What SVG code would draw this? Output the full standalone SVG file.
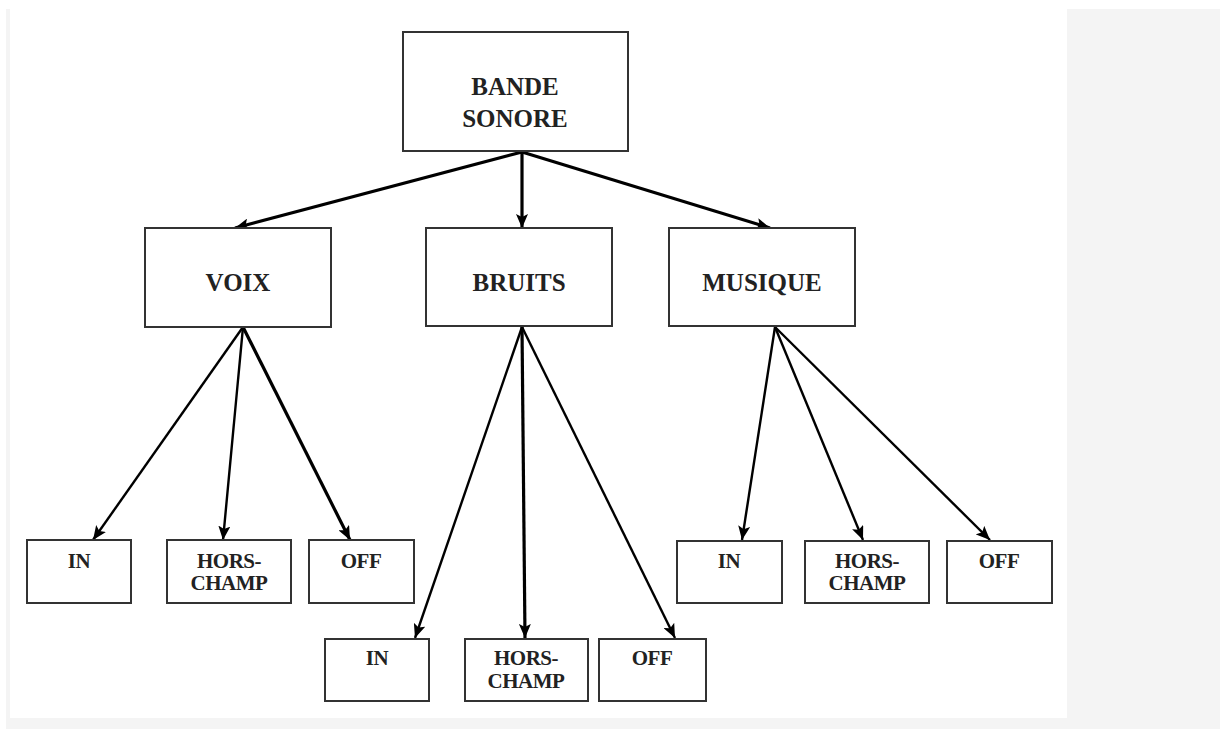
<svg xmlns="http://www.w3.org/2000/svg" width="1220" height="729" viewBox="0 0 1220 729">
<style>
.box{fill:#fff;stroke:#333;stroke-width:2}
.big{font-family:"Liberation Serif",serif;font-weight:bold;font-size:25px;fill:#222;text-anchor:middle}
.sm{font-family:"Liberation Serif",serif;font-weight:bold;font-size:21px;fill:#222;text-anchor:middle;letter-spacing:-0.5px}
.c{stroke:#000;fill:none;stroke-width:2.4}
.c3{stroke:#000;fill:none;stroke-width:3.2}
</style>
<defs>
<marker id="ah" viewBox="0 0 14 12" refX="14" refY="6" markerWidth="14" markerHeight="12" orient="auto" markerUnits="userSpaceOnUse">
<path d="M0,0 L14,6 L0,12 L3,6 z" fill="#000"/>
</marker>
</defs>
<rect x="0" y="0" width="1220" height="729" fill="#fff"/>
<rect x="6" y="9" width="1214" height="720" fill="#f4f4f4"/>
<rect x="10" y="0" width="1057" height="718" fill="#fff"/>
<g id="connectors">
<line class="c3" x1="522" y1="152" x2="235" y2="228" marker-end="url(#ah)"/>
<line class="c3" x1="522" y1="152" x2="522" y2="228" marker-end="url(#ah)"/>
<line class="c3" x1="522" y1="152" x2="770" y2="228" marker-end="url(#ah)"/>
<line class="c" x1="243" y1="327" x2="93" y2="540" marker-end="url(#ah)"/>
<line class="c" x1="243" y1="327" x2="223" y2="540" marker-end="url(#ah)"/>
<line class="c3" x1="243" y1="327" x2="350" y2="540" marker-end="url(#ah)"/>
<line class="c" x1="522" y1="327" x2="415" y2="638" marker-end="url(#ah)"/>
<line class="c3" x1="522" y1="327" x2="525" y2="638" marker-end="url(#ah)"/>
<line class="c" x1="522" y1="327" x2="675" y2="638" marker-end="url(#ah)"/>
<line class="c" x1="775" y1="327" x2="742" y2="540" marker-end="url(#ah)"/>
<line class="c" x1="775" y1="327" x2="863" y2="540" marker-end="url(#ah)"/>
<line class="c" x1="775" y1="327" x2="990" y2="540" marker-end="url(#ah)"/>
</g>
<g id="bande-sonore"><rect class="box" x="403" y="32" width="225" height="119"/><text class="big" x="515" y="95">BANDE</text><text class="big" x="515" y="127">SONORE</text></g>
<g id="voix"><rect class="box" x="145" y="228" width="186" height="99"/><text class="big" x="238" y="291">VOIX</text></g>
<g id="bruits"><rect class="box" x="426" y="228" width="186" height="98"/><text class="big" x="519" y="291">BRUITS</text></g>
<g id="musique"><rect class="box" x="669" y="228" width="186" height="98"/><text class="big" x="762" y="291">MUSIQUE</text></g>
<g id="voix-in"><rect class="box" x="27" y="540" width="104" height="63"/><text class="sm" x="79" y="568">IN</text></g>
<g id="voix-hors-champ"><rect class="box" x="167" y="540" width="124" height="63"/><text class="sm" x="229" y="568">HORS-</text><text class="sm" x="229" y="590">CHAMP</text></g>
<g id="voix-off"><rect class="box" x="309" y="540" width="105" height="63"/><text class="sm" x="361" y="568">OFF</text></g>
<g id="bruits-in"><rect class="box" x="325" y="639" width="104" height="62"/><text class="sm" x="377" y="665">IN</text></g>
<g id="bruits-hors-champ"><rect class="box" x="465" y="639" width="123" height="62"/><text class="sm" x="526" y="665">HORS-</text><text class="sm" x="526" y="688">CHAMP</text></g>
<g id="bruits-off"><rect class="box" x="599" y="639" width="107" height="62"/><text class="sm" x="652" y="665">OFF</text></g>
<g id="musique-in"><rect class="box" x="677" y="541" width="105" height="62"/><text class="sm" x="729" y="568">IN</text></g>
<g id="musique-hors-champ"><rect class="box" x="805" y="541" width="124" height="62"/><text class="sm" x="867" y="568">HORS-</text><text class="sm" x="867" y="590">CHAMP</text></g>
<g id="musique-off"><rect class="box" x="947" y="541" width="105" height="62"/><text class="sm" x="999" y="568">OFF</text></g>
</svg>
